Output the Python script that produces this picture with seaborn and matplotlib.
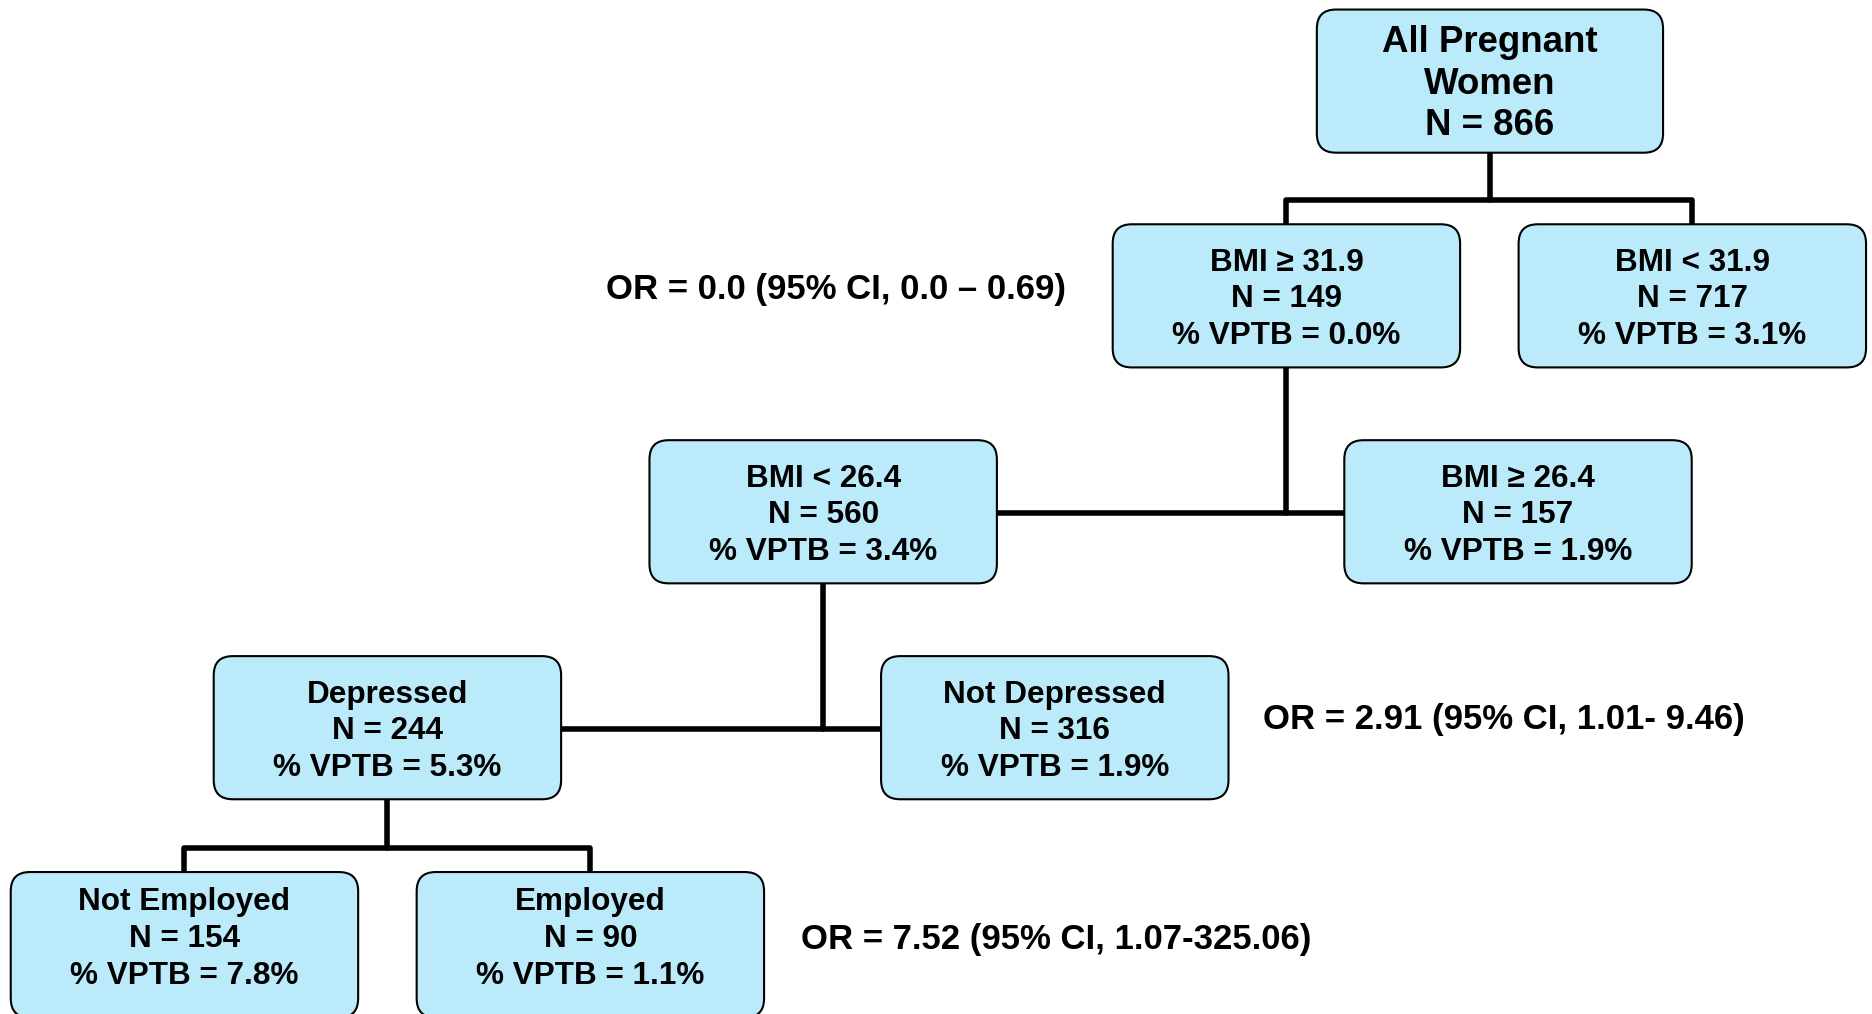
import pandas as pd
import numpy as np
import matplotlib
matplotlib.use('Agg')
import matplotlib.pyplot as plt
from matplotlib.patches import FancyBboxPatch
import seaborn as sns

sns.set_theme(style='white')
plt.rcParams['font.family'] = ['Liberation Sans', 'DejaVu Sans']
plt.rcParams['text.color'] = 'black'

#%% data
labels = ['All Pregnant\nWomen', 'BMI \u2265 31.9', 'BMI < 31.9', 'BMI < 26.4', 'BMI \u2265 26.4',
          'Depressed', 'Not Depressed', 'Not Employed', 'Employed']
n_women = [866, 149, 717, 560, 157, 244, 316, 154, 90]
vptb = [None, 0.0, 3.1, 3.4, 1.9, 5.3, 1.9, 7.8, 1.1]
or_texts = ['OR = 0.0 (95% CI, 0.0 \u2013 0.69)',
            'OR = 2.91 (95% CI, 1.01- 9.46)',
            'OR = 7.52 (95% CI, 1.07-325.06)']

#%% layout (canvas units, y going down)
# box: x0, y0, w, h, text center y
boxes = [(1103, 8, 290, 120, 70.5),
         (932, 188, 291, 120, 251),
         (1272, 188, 291, 120, 251),
         (544, 369, 291, 120, 432),
         (1126, 369, 291, 120, 432),
         (179, 550, 291, 120, 613),
         (738, 550, 291, 120, 613),
         (9, 731, 291, 122, 787),
         (349, 731, 291, 122, 787)]
# parent, children, kind ('below' = bar over children, 'side' = bar between them)
splits = [(0, (1, 2), 'below', 168),
          (1, (3, 4), 'side', None),
          (3, (5, 6), 'side', None),
          (5, (7, 8), 'below', 711)]
or_pos = [(700, 243, 'center'), (1058, 603.5, 'left'), (671, 787.5, 'left')]

W, H = 1568, 850

#%% connectors
rows = []
seg = 0
for p, (a, b), kind, bar_y in splits:
    px0, py0, pw, ph, _ = boxes[p]
    pcx, pbot = px0 + pw / 2, py0 + ph
    ax0, ay0, aw, ah, _ = boxes[a]
    bx0, by0, bw, bh, _ = boxes[b]
    if kind == 'below':
        acx, bcx = ax0 + aw / 2, bx0 + bw / 2
        pts = [[(pcx, pbot), (pcx, bar_y)],
               [(acx, ay0), (acx, bar_y), (bcx, bar_y), (bcx, by0)]]
    else:
        ymid = ay0 + ah / 2 + 1
        pts = [[(pcx, pbot), (pcx, ymid)],
               [(ax0 + aw, ymid), (bx0, ymid)]]
    for path in pts:
        for i, (x, y) in enumerate(path):
            rows.append({'x': x, 'y': y, 'seg': seg, 'order': i})
        seg += 1
lines = pd.DataFrame(rows)

#%% plot
fig = plt.figure(figsize=(18.72, 10.14), dpi=100)
ax = fig.add_axes([0, 0, 1, 1])
sns.lineplot(data=lines, x='x', y='y', units='seg', estimator=None, sort=False,
             color='black', lw=4.0, ax=ax, zorder=1)

for i, (x0, y0, w, h, ty) in enumerate(boxes):
    ax.add_patch(FancyBboxPatch((x0, y0), w, h, boxstyle='round,pad=0,rounding_size=16',
                                fc='#bbebfb', ec='black', lw=1.5, zorder=2))
    if vptb[i] is None:
        txt = labels[i] + '\nN = ' + str(n_women[i])
        fs, ls = 26.4, 1.25
    else:
        txt = labels[i] + '\nN = ' + str(n_women[i]) + '\n% VPTB = ' + '%.1f%%' % vptb[i]
        fs, ls = 22.7, 1.29
    ax.text(x0 + w / 2, ty, txt, ha='center', va='center', fontsize=fs,
            fontweight='bold', linespacing=ls, color='black', zorder=3)

for t, (x, y, ha) in zip(or_texts, or_pos):
    ax.text(x, y, t, ha=ha, va='center', fontsize=25.0, fontweight='bold', color='black')

ax.set_xlim(0, W)
ax.set_ylim(H, 0)
ax.axis('off')
fig.savefig('out.png', dpi=100)
